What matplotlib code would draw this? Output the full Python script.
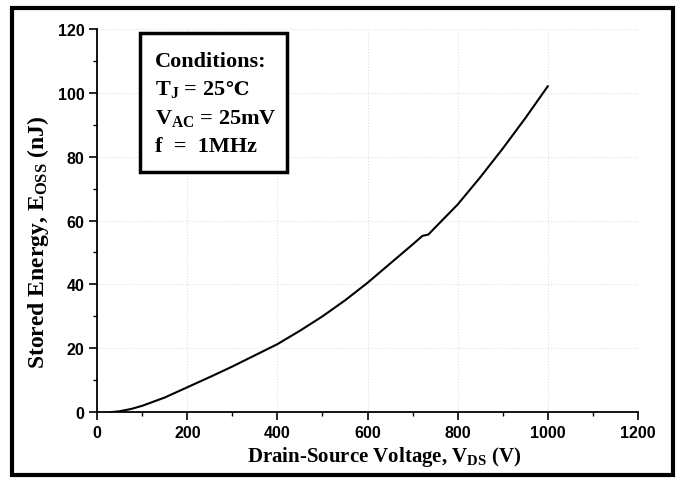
import matplotlib

matplotlib.use("Agg")
import matplotlib.pyplot as plt
from matplotlib.patches import Rectangle

# Drain-source voltage (V) and stored energy Eoss (nJ)
vds = [30, 50, 75, 100, 150, 200, 250, 300, 350, 400, 450, 500, 550, 600,
       650, 700, 722, 735, 750, 800, 850, 900, 950, 1000]
eoss = [0.0, 0.3, 1.0, 2.0, 4.6, 7.8, 11.0, 14.3, 17.8, 21.3, 25.5, 30.0,
        35.0, 40.5, 46.5, 52.5, 55.2, 55.6, 57.8, 65.0, 73.5, 82.5, 92.0, 102.0]

x_ticks = [0, 200, 400, 600, 800, 1000, 1200]
y_ticks = [0, 20, 40, 60, 80, 100, 120]

cond_lines = [
    "Conditions:",
    r"T$_\mathbf{J}$ = 25",
    r"V$_\mathbf{AC}$ = 25mV",
    "f  =  1MHz",
]

plt.rcParams.update(
    {
        "mathtext.fontset": "custom",
        "mathtext.rm": "Liberation Serif",
        "mathtext.bf": "Liberation Serif:bold",
        "mathtext.it": "Liberation Serif:italic",
    }
)

SERIF = ["Liberation Serif", "DejaVu Serif"]

fig = plt.figure(figsize=(6.8, 4.81), dpi=100)
ax = fig.add_axes([0.143, 0.141, 0.795, 0.797])

ax.plot(vds, eoss, color="black", linewidth=1.5, zorder=3)

ax.set_xlim(0, 1200)
ax.set_ylim(0, 120)
ax.set_xticks(x_ticks)
ax.set_yticks(y_ticks)
ax.set_xticks(range(100, 1200, 200), minor=True)
ax.set_yticks(range(10, 120, 20), minor=True)
ax.tick_params(which="major", direction="out", length=6, width=1.2, pad=3)
ax.tick_params(which="minor", direction="out", length=3, width=1.0)
for lbl in ax.get_xticklabels() + ax.get_yticklabels():
    lbl.set_fontfamily("Liberation Sans")
    lbl.set_fontweight("bold")
    lbl.set_fontsize(11.5)

ax.grid(True, color="#e0e0e0", linestyle=":", linewidth=0.8, zorder=0)
ax.spines["top"].set_visible(False)
ax.spines["right"].set_visible(False)
for s in ("left", "bottom"):
    ax.spines[s].set_linewidth(1.3)

ax.set_xlabel(r"Drain-Source Voltage, V$_\mathbf{DS}$ (V)", family=SERIF,
              fontweight="bold", fontsize=15)
ax.set_ylabel(r"Stored Energy, E$_\mathbf{OSS}$ (nJ)", family=SERIF,
              fontweight="bold", fontsize=17)
ax.xaxis.set_label_coords(0.53, -0.083)
ax.yaxis.set_label_coords(-0.085, 0.446)

# conditions box
ax.add_patch(Rectangle((0.0795, 0.627), 0.2715, 0.363, transform=ax.transAxes,
                       fill=True, facecolor="white", edgecolor="black",
                       linewidth=2.5, zorder=4))
texts = []
for i, line in enumerate(cond_lines):
    t = ax.text(0.107, 0.903 - i * 0.0739, line, transform=ax.transAxes,
                family=SERIF, fontweight="bold", fontsize=16,
                ha="left", va="baseline", zorder=5)
    texts.append(t)
# degree-Celsius sign is missing from Liberation Serif, so append it separately
ax.annotate("℃", xy=(1.0, 0.903 - 0.0739), xycoords=(texts[1], "axes fraction"),
            family="DejaVu Serif", fontweight="bold", fontsize=14,
            ha="left", va="baseline", zorder=5)

# thick outer frame round the whole figure
fig.patches.append(Rectangle((0.018, 0.01), 0.972, 0.972,
                             transform=fig.transFigure, fill=False,
                             edgecolor="black", linewidth=3))

fig.savefig("out.png", dpi=100)
